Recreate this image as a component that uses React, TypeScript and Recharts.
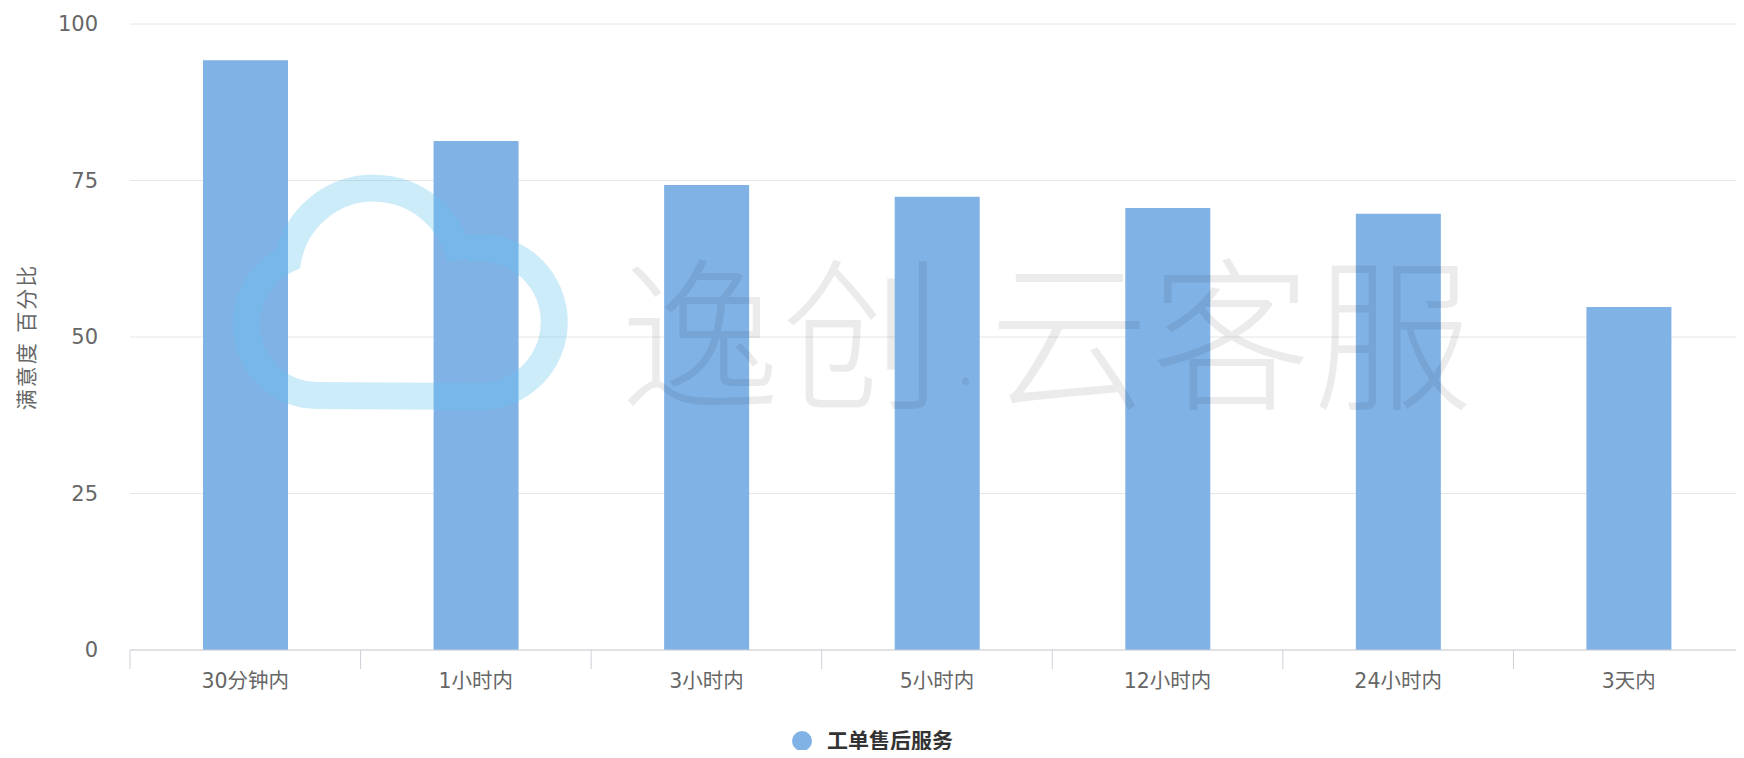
import React from "react";
import {
  Bar,
  BarChart,
  CartesianGrid,
  Legend,
  XAxis,
  YAxis,
} from "recharts";

const categories = ["30分钟内", "1小时内", "3小时内", "5小时内", "12小时内", "24小时内", "3天内"];
const satisfaction = [94.2, 81.3, 74.3, 72.4, 70.6, 69.7, 54.8];
const yTicks = [0, 25, 50, 75, 100];
const seriesName = "工单售后服务";
const yTitle = "满意度 百分比";

const data = categories.map((name, i) => ({ name, value: satisfaction[i] }));

const W = 1744;
const H = 758;
const Y_AXIS_W = 130;
const BAND = (W - Y_AXIS_W) / categories.length;
const FONT = "'DejaVu Sans', 'Noto Sans CJK SC', sans-serif";
const BAR_COLOR = "#80b2e6";
const AXIS_COLOR = "#ccd0d8";

function CategoryTick({ x, y, payload, index }: any) {
  const left = x - BAND / 2;
  return (
    <g>
      <line x1={left} y1={y} x2={left} y2={y + 19} stroke={AXIS_COLOR} />
      {index === categories.length - 1 && (
        <line x1={x + BAND / 2} y1={y} x2={x + BAND / 2} y2={y + 19} stroke={AXIS_COLOR} />
      )}
      <text x={x} y={y + 38} textAnchor="middle" fill="#666" fontSize={20.5} fontFamily={FONT}>
        {payload.value}
      </text>
    </g>
  );
}

function YTitle({ viewBox }: any) {
  const cy = viewBox.y + viewBox.height / 2;
  return (
    <text
      x={27}
      y={cy}
      transform={`rotate(-90, 27, ${cy})`}
      textAnchor="middle"
      dominantBaseline="central"
      fill="#666"
      fontSize={21}
      letterSpacing={2}
      fontFamily={FONT}
    >
      {yTitle}
    </text>
  );
}

function LegendContent() {
  return (
    <div
      style={{
        display: "flex",
        justifyContent: "center",
        alignItems: "center",
        paddingTop: 20,
        fontFamily: FONT,
      }}
    >
      <svg width={22} height={22} style={{ marginRight: 14 }}>
        <circle cx={11} cy={11} r={10} fill={BAR_COLOR} />
      </svg>
      <span style={{ fontSize: 21, lineHeight: "22px", fontWeight: 700, color: "#333" }}>{seriesName}</span>
    </div>
  );
}

// faint brand watermark laid over the plot
function Watermark() {
  return (
    <div style={{ position: "absolute", left: 0, top: 0, width: W, height: H, pointerEvents: "none" }}>
      <svg width={W} height={H} style={{ position: "absolute", left: 0, top: 0 }}>
        <path
          d="M 465 249 A 74.5 74.5 0 1 1 478 396.5 L 317 395.5 A 71.5 71.5 0 0 1 288 259 A 87.5 87.5 0 0 1 460 260"
          fill="none"
          stroke="rgba(100,195,240,0.32)"
          strokeWidth={27}
        />
      </svg>
      <div
        style={{
          position: "absolute",
          left: 620,
          top: 246,
          fontSize: 160,
          lineHeight: "160px",
          letterSpacing: 2,
          fontWeight: 300,
          color: "rgba(0,0,0,0.08)",
          fontFamily: "'Noto Sans CJK SC', sans-serif",
          whiteSpace: "nowrap",
          transform: "scaleY(1.03)",
          transformOrigin: "center",
        }}
      >
        逸创
        <span style={{ display: "inline-block", width: 45, fontSize: 40, textAlign: "center" }}>·</span>
        云客服
      </div>
    </div>
  );
}

export default function App() {
  return (
    <div style={{ position: "relative", margin: -8, width: W, height: H, background: "#fff", overflow: "hidden" }}>
      <BarChart width={W} height={H} data={data} margin={{ top: 24, right: 0, left: 0, bottom: 0 }}>
        <CartesianGrid vertical={false} stroke="#e6e6e6" />
        <XAxis
          dataKey="name"
          height={60}
          axisLine={{ stroke: AXIS_COLOR }}
          tickLine={false}
          tickSize={0}
          tickMargin={0}
          interval={0}
          tick={<CategoryTick />}
        />
        <YAxis
          width={Y_AXIS_W}
          domain={[0, 100]}
          ticks={yTicks}
          axisLine={false}
          tickLine={false}
          tickMargin={26}
          tick={{ fill: "#666", fontSize: 21, fontFamily: FONT }}
          label={<YTitle />}
        />
        <Legend verticalAlign="bottom" height={48} content={<LegendContent />} />
        <Bar dataKey="value" name={seriesName} fill={BAR_COLOR} barSize={85} isAnimationActive={false} />
      </BarChart>
      <Watermark />
    </div>
  );
}
